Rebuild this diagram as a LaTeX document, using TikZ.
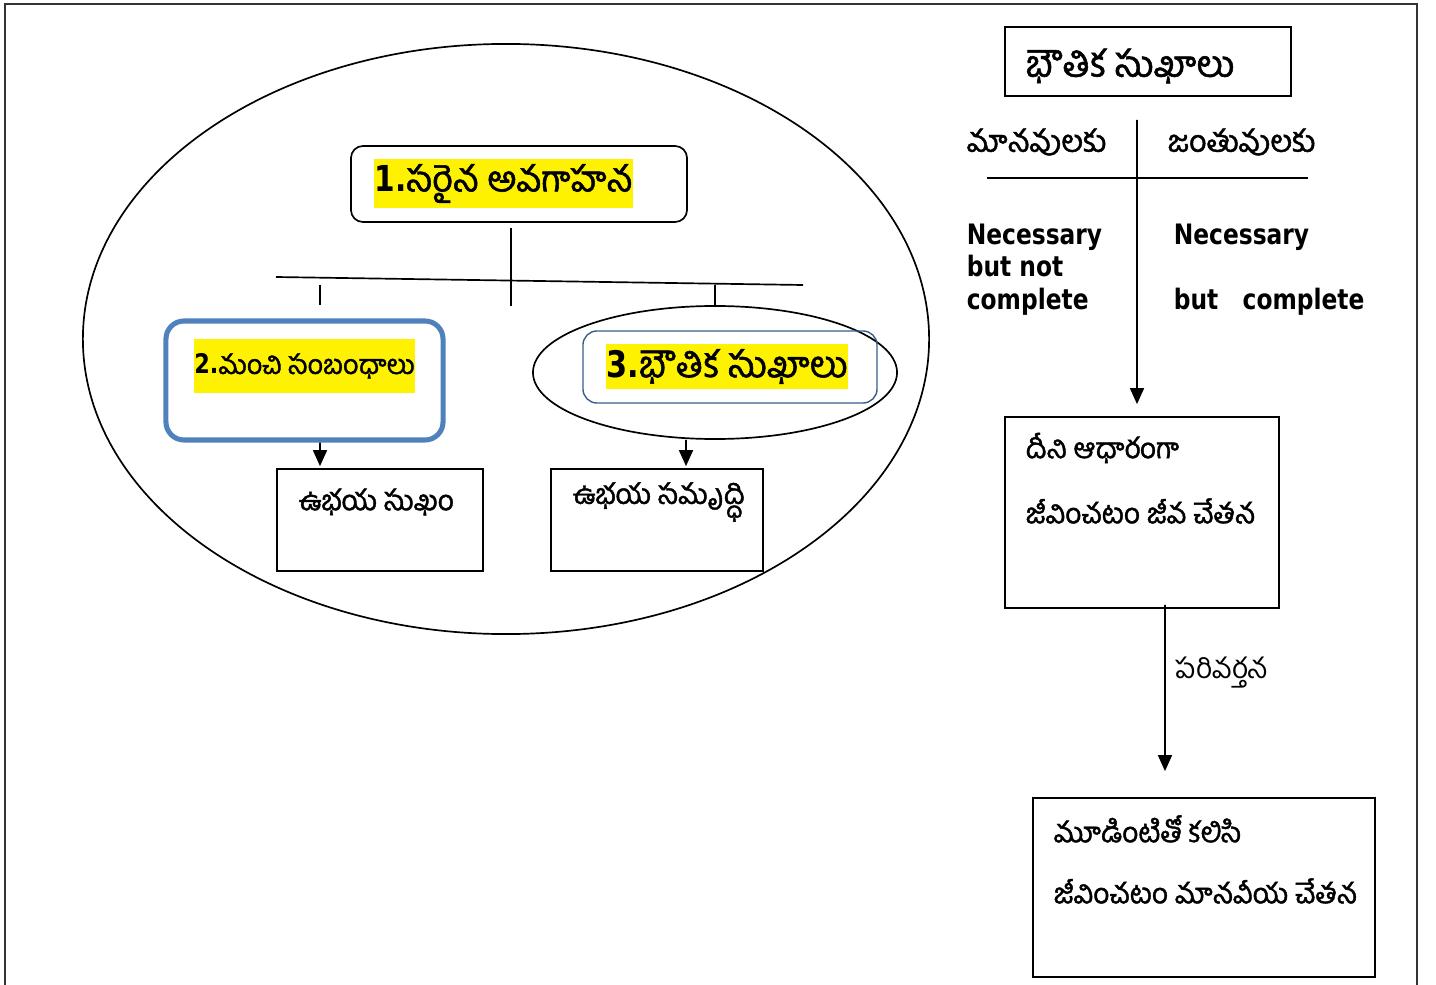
\documentclass[tikz,border=0pt]{standalone}
\usepackage{fontspec}
\newfontfamily\telugu[Script=Telugu]{Hind Guntur}
\newfontfamily\telugub[Script=Telugu, FakeBold=1.5]{Hind Guntur}
\newfontfamily\latin[FakeStretch=0.83]{DejaVu Sans}
\usetikzlibrary{shapes.geometric, positioning}
\usetikzlibrary{arrows.meta}
\tikzset{>={Triangle[width=3.5mm,length=4mm]}}
\definecolor{boxblue}{HTML}{4F81BD}
\definecolor{darkblue}{HTML}{385D8A}

\begin{document}
\begin{tikzpicture}[x=0.025cm, y=-0.025cm, line width=1.2pt, box/.style={draw=black, line width=1.2pt, inner sep=0pt}, roundbox/.style={box, rounded corners=0.3cm}, oval/.style={ellipse, draw=black, line width=1.2pt, inner sep=0pt}, hilite/.style={fill=yellow, inner sep=0pt, font=\telugub\fontsize{25.4}{29}\selectfont}, teltext/.style={anchor=west, inner sep=0pt, font=\telugub\fontsize{20}{24}\selectfont}, engtext/.style={anchor=north west, inner sep=0pt, align=left, font=\latin\bfseries\fontsize{20}{23}\selectfont}]
    \useasboundingbox (0,0) rectangle (1436,985);
    \draw[line width=1.5pt, black!80] (5,985) -- (5,4) -- (1417,4) -- (1417,985);

    %Nodes
    \node[oval, minimum width=21.15cm, minimum height=14.75cm](outer) at (506,339){};
    \node[roundbox, minimum width=8.4cm, minimum height=1.9cm](understanding) at (519,184){};
    \node[hilite, minimum width=6.475cm, minimum height=1.225cm](understanding_text) at (503.5,183.5){{\latin\bfseries 1.}సరైన అవగాహన};
    \node[roundbox, draw=boxblue, line width=3.6pt, rounded corners=0.45cm, minimum width=6.925cm, minimum height=2.975cm](relations) at (304.5,380.5){};
    \node[hilite, font=\telugub\fontsize{19.2}{22}\selectfont, minimum width=5.525cm, minimum height=1.35cm](relations_text) at (304.5,366){{\latin\bfseries 2.}మంచి సంబంధాలు};
    \node[box, minimum width=5.15cm, minimum height=2.55cm](mutual_joy) at (380,520){};
    \node[teltext](mutual_joy_text) at (298,502){ఉభయ సుఖం};
    \node[oval, minimum width=9.1cm, minimum height=3.325cm](physical) at (715,372.5){};
    \node[roundbox, draw=darkblue, line width=1pt, rounded corners=0.35cm, minimum width=7.35cm, minimum height=1.8cm](physical_box) at (730,367){};
    \node[hilite, font=\telugub\fontsize{26}{30}\selectfont, minimum width=6.05cm, minimum height=1.125cm](physical_text) at (727,366.5){{\latin\bfseries 3.}భౌతిక సుఖాలు};
    \node[box, minimum width=5.3cm, minimum height=2.55cm](prosperity) at (657,520){};
    \node[teltext](prosperity_text) at (572,502){ఉభయ సమృద్ధి};

    \node[box, minimum width=7.15cm, minimum height=1.725cm](comforts) at (1148,61.5){};
    \node[teltext, font=\telugub\fontsize{26}{30}\selectfont](comforts_text) at (1025,66){భౌతిక సుఖాలు};
    \node[teltext, font=\telugub\fontsize{21.6}{25}\selectfont](humans) at (966,142){మానవులకు};
    \node[teltext, font=\telugub\fontsize{21.6}{25}\selectfont](animals) at (1167,142){జంతువులకు};
    \node[engtext](humans_note) at (966,223){Necessary\\but not\\complete};
    \node[engtext](animals_note) at (1173,223){Necessary\\[23pt]but\ \ \ complete};
    \node[box, minimum width=6.85cm, minimum height=4.775cm](living) at (1142,512.5){};
    \node[teltext](living_a) at (1025,448){దీని ఆధారంగా};
    \node[teltext](living_b) at (1025,511){జీవించటం జీవ చేతన};
    \node[teltext, font=\telugu\fontsize{20}{24}\selectfont](change) at (1175,673){పరివర్తన};
    \node[box, minimum width=8.55cm, minimum height=4.475cm](human_life) at (1204,887.5){};
    \node[teltext](human_a) at (1053,829){మూడింటితో కలిసి};
    \node[teltext](human_b) at (1053,891){జీవించటం మానవీయ చేతన};

    \coordinate (stem_top) at (511,228);
    \coordinate (stem_bottom) at (511,306);
    \coordinate (bar_left) at (276,277);
    \coordinate (bar_right) at (803,285);
    \coordinate (tick_left) at (320,285);
    \coordinate (tick_right) at (715,285);
    \coordinate (split_top) at (1137,120);
    \coordinate (rule_left) at (987,178);
    \coordinate (rule_right) at (1308,178);

    %Lines
    \draw (stem_top) -- (stem_bottom);
    \draw (bar_left) -- (bar_right);
    \draw (tick_left) -- ++(0,20);
    \draw (tick_right) -- ++(0,20);
    \draw[->] ([xshift=0.3875cm]relations.south) -- ([xshift=-1.5cm, yshift=0.05cm]mutual_joy.north);
    \draw[->] ([xshift=-0.725cm]physical.south) -- ([xshift=0.725cm, yshift=0.05cm]prosperity.north);
    \draw (rule_left) -- (rule_right);
    \draw[->] (split_top) -- ([xshift=-0.125cm, yshift=0.3cm]living.north);
    \draw[->] ([xshift=0.575cm, yshift=0.1cm]living.south) -- ([xshift=-0.975cm, yshift=0.65cm]human_life.north);

\end{tikzpicture}
\end{document}
